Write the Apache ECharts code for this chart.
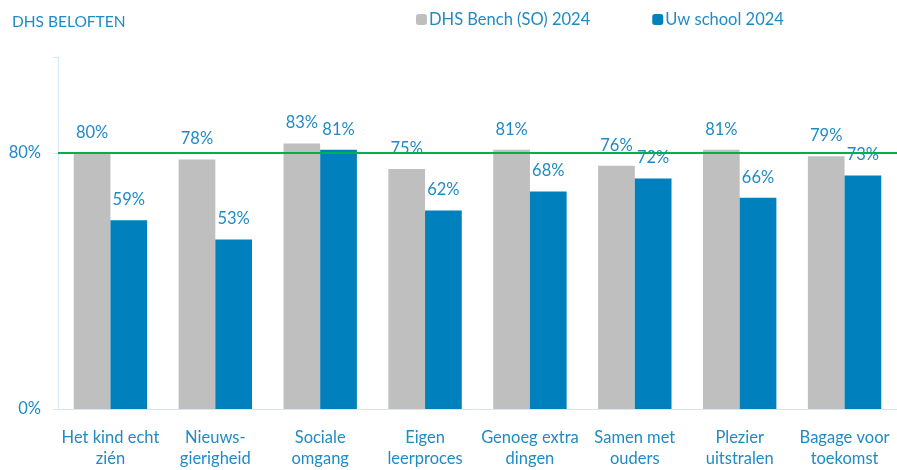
<!DOCTYPE html>
<html lang="en">
<head>
	<meta charset="UTF-8">
	<title>DHS beloften</title>
	<script src="https://cdn.jsdelivr.net/npm/echarts@6/dist/echarts.min.js"></script>
	<style>
		html, body { margin: 0; padding: 0; background: #fff; }
		#chart { width: 897px; height: 470px; }
	</style>
</head>
<body>
	<div id="chart"></div>
	<script>
		let categories = ['Het kind echt\nzién', 'Nieuws-\ngierigheid', 'Sociale\nomgang', 'Eigen\nleerproces',
			'Genoeg extra\ndingen', 'Samen met\nouders', 'Plezier\nuitstralen', 'Bagage voor\ntoekomst'];
		let bench = [80, 78, 83, 75, 81, 76, 81, 79];
		let school = [59, 53, 81, 62, 68, 72, 66, 73];
		let seriesNames = ['DHS Bench (SO) 2024', 'Uw school 2024'];
		let targetLine = 80;

		let textColor = '#1f8bc6';
		let font = 'Lato, "Open Sans", sans-serif';
		let chart = echarts.init(document.getElementById('chart'));

		let labelStyle = {
			show: true,
			position: 'top',
			distance: 12,
			color: textColor,
			fontSize: 16.5,
			fontFamily: font,
			formatter: p => p.value + '%'
		};

		chart.setOption({
			animation: false,
			title: {
				text: 'DHS BELOFTEN',
				left: 7,
				top: 9,
				textStyle: { color: textColor, fontSize: 15.5, fontWeight: 'normal', fontFamily: font }
			},
			legend: {
				left: 411,
				top: 6,
				itemWidth: 11,
				itemHeight: 11,
				itemGap: 62,
				textStyle: { color: textColor, fontSize: 16.5, fontFamily: font, padding: [0, 0, 0, -3] },
				data: seriesNames
			},
			grid: { left: 58, right: -3, top: 57, bottom: 61 },
			xAxis: {
				type: 'category',
				data: categories,
				axisLine: { lineStyle: { color: '#d6e6f2', width: 1 } },
				axisTick: { show: false },
				axisLabel: { color: textColor, fontSize: 16.5, fontFamily: font, lineHeight: 21, margin: 18, interval: 0 }
			},
			yAxis: {
				type: 'value',
				min: 0,
				max: 110,
				interval: 80,
				splitLine: { show: false },
				axisLine: { show: true, lineStyle: { color: '#d6e6f2', width: 1 } },
				axisTick: { show: true, length: 5, lineStyle: { color: '#d6e6f2' } },
				axisLabel: {
					color: textColor, fontSize: 16.5, fontFamily: font, margin: 17,
					formatter: v => (v === 0 || v === 80) ? v + '%' : ''
				}
			},
			series: [
				{
					name: seriesNames[0],
					type: 'bar',
					data: bench,
					barGap: '0%',
					barCategoryGap: '30%',
					itemStyle: { color: '#bfbfbf' },
					label: labelStyle,
					markLine: {
						silent: true,
						symbol: 'none',
						label: { show: false },
						lineStyle: { color: '#00b050', width: 2, type: 'solid' },
						data: [{ yAxis: targetLine }]
					}
				},
				{
					name: seriesNames[1],
					type: 'bar',
					data: school,
					itemStyle: { color: '#0080bc' },
					label: labelStyle
				}
			]
		});
	</script>
</body>
</html>
